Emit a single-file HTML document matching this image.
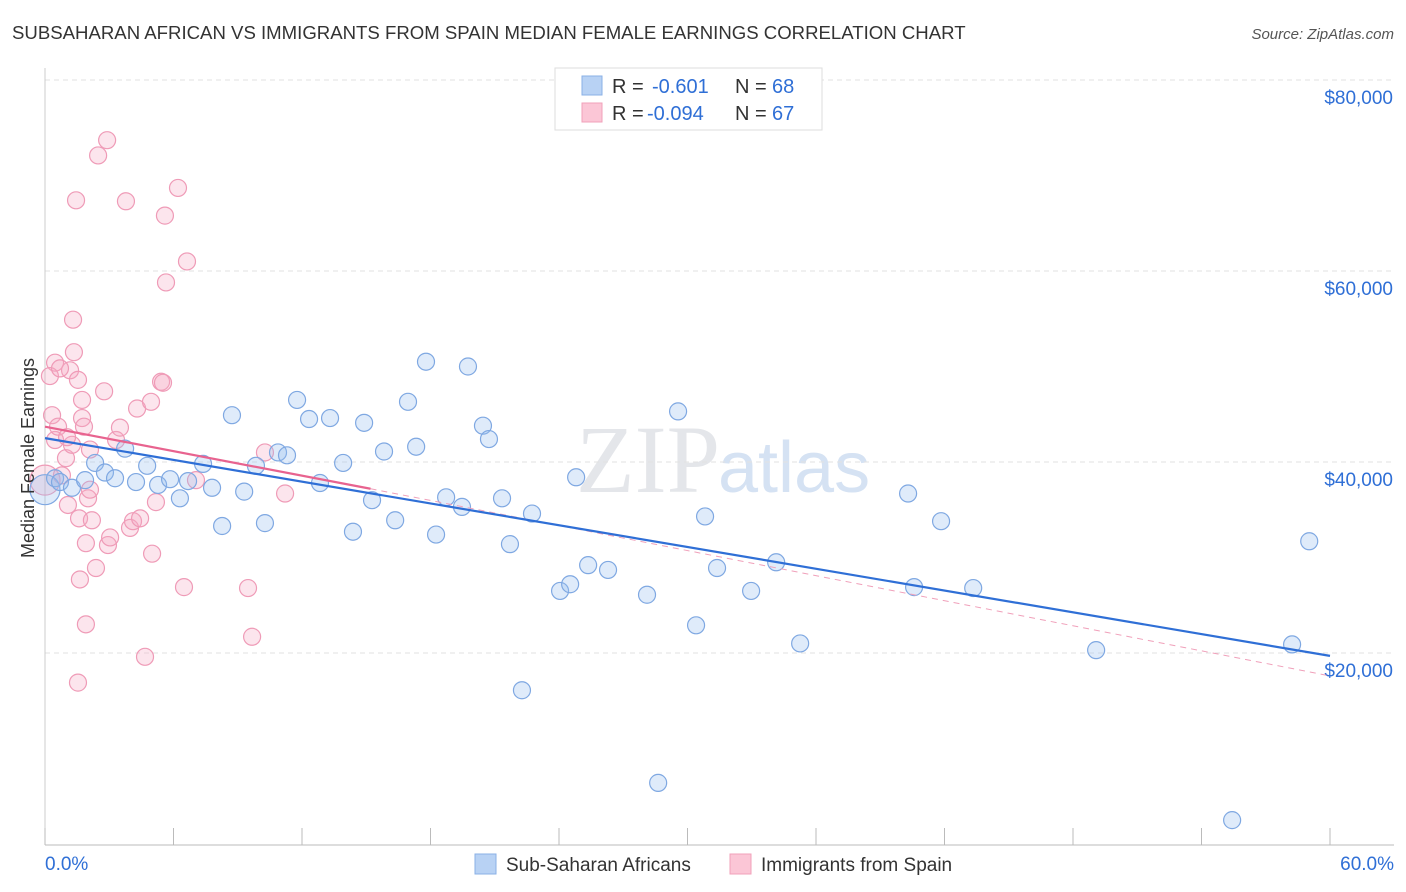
<!DOCTYPE html>
<html><head><meta charset="utf-8"><style>
body{margin:0;background:#fff;font-family:"Liberation Sans",sans-serif;}
svg{display:block}
</style></head><body>
<svg id="chart" width="1406" height="892">
<text x="12" y="39" font-size="18.6" fill="#333">SUBSAHARAN AFRICAN VS IMMIGRANTS FROM SPAIN MEDIAN FEMALE EARNINGS CORRELATION CHART</text>
<text x="1394" y="39" font-size="15" fill="#555" font-style="italic" text-anchor="end">Source: ZipAtlas.com</text>
<text x="720" y="492" font-size="96" fill="#e4e6ea" text-anchor="end" font-family="Liberation Serif">ZIP</text>
<text x="718" y="492" font-size="72" fill="#d5e2f3">atlas</text>
<g id="grid"></g><g id="axes"></g><g id="pts"></g><g id="trends"></g>
<g>
<rect x="555" y="68" width="267" height="62" fill="#fff" stroke="#ddd"/>
<rect x="582" y="76" width="20" height="19" fill="#b8d2f4" stroke="#8ab0e6"/>
<rect x="582" y="103" width="20" height="19" fill="#fbc6d6" stroke="#f0a0ba"/>
<text x="612" y="93" font-size="20" fill="#333">R =</text>
<text x="652" y="93" font-size="20" fill="#2f6fd6">-0.601</text>
<text x="735" y="93" font-size="20" fill="#333">N =</text>
<text x="772" y="93" font-size="20" fill="#2f6fd6">68</text>
<text x="612" y="120" font-size="20" fill="#333">R =</text>
<text x="647" y="120" font-size="20" fill="#2f6fd6">-0.094</text>
<text x="735" y="120" font-size="20" fill="#333">N =</text>
<text x="772" y="120" font-size="20" fill="#2f6fd6">67</text>
</g>
<g>
<rect x="475" y="854" width="21" height="20" fill="#b8d2f4" stroke="#8ab0e6"/>
<text x="506" y="871" font-size="19" fill="#333">Sub-Saharan Africans</text>
<rect x="730" y="854" width="21" height="20" fill="#fbc6d6" stroke="#f0a0ba"/>
<text x="761" y="871" font-size="19" fill="#333">Immigrants from Spain</text>
</g>
<text x="34" y="458" font-size="18" fill="#333" text-anchor="middle" transform="rotate(-90 34 458)">Median Female Earnings</text>
</svg>
<script>
const yTicks=[20000,40000,60000,80000];
const yTickLabels=["$20,000","$40,000","$60,000","$80,000"];
const xTickLabels=["0.0%","60.0%"];
const blueX=[0,0.47,0.7,1.26,1.87,2.34,2.8,3.27,3.74,4.25,4.77,5.28,5.84,6.3,6.68,7.38,7.8,8.27,8.73,9.3,9.85,10.27,10.88,11.3,11.77,12.33,12.84,13.31,13.92,14.38,14.9,15.27,15.83,16.35,16.95,17.33,17.79,18.26,18.73,19.47,19.75,20.45,20.73,21.34,21.71,22.27,22.74,24.05,24.52,24.8,25.36,26.29,28.11,28.63,29.56,30.4,30.82,31.38,32.97,34.14,35.26,40.3,40.58,41.84,43.34,49.08,55.43,58.23,59.03];
const blueY=[37.1,38.3,37.9,37.3,38.1,39.9,38.9,38.3,41.4,37.9,39.6,37.6,38.2,36.2,38.0,39.8,37.3,33.3,44.9,36.9,39.6,33.6,41.0,40.7,46.5,44.5,37.8,44.6,39.9,32.7,44.1,36.0,41.1,33.9,46.3,41.6,50.5,32.4,36.3,35.3,50.0,43.8,42.4,36.2,31.4,16.1,34.6,26.5,27.2,38.4,29.2,28.7,26.1,6.4,45.3,22.9,34.3,28.9,26.5,29.5,21.0,36.7,26.9,33.8,26.8,20.3,2.5,20.9,31.7];
const pinkX=[0,0.33,0.47,0.47,0.61,0.79,0.98,1.07,1.17,1.26,1.31,1.35,1.45,1.54,1.54,1.59,1.63,1.73,1.73,1.82,1.91,1.91,2.01,2.1,2.19,2.38,2.48,2.76,2.9,2.94,3.04,3.32,3.5,3.78,3.97,4.11,4.3,4.44,4.67,4.95,5.0,5.18,5.42,5.51,5.6,5.65,6.21,6.49,6.63,7.05,9.48,9.67,10.27,11.21,0.23,0.7,1.03,2.1];
const pinkY=[38.1,44.9,42.3,50.4,43.7,38.6,40.4,35.5,49.6,41.8,54.9,51.5,67.4,48.6,16.9,34.1,27.7,46.5,44.6,43.7,31.5,23.0,36.2,37.1,33.9,28.9,72.1,47.4,73.7,31.3,32.1,42.3,43.6,67.3,33.1,33.8,45.6,34.1,19.6,46.3,30.4,35.8,48.4,48.3,65.8,58.8,68.7,26.9,61.0,38.1,26.8,21.7,41.0,36.7,49.0,49.8,42.6,41.3];
const blueTrend=[[0,42.5],[60,19.7]];
const pinkTrend=[[0,43.7],[15.2,37.2]];
const pinkDash=[[15.2,37.2],[60,17.6]];
const NS="http://www.w3.org/2000/svg";
const X=p=>45+p*1285/60;
const Y=k=>844-k*1000*191/20000;
function mk(parent,tag,attrs){const e=document.createElementNS(NS,tag);for(const k in attrs)e.setAttribute(k,attrs[k]);document.getElementById(parent).appendChild(e);return e;}
yTicks.forEach((v,i)=>{
 const g=mk('grid','line',{x1:45,x2:1394,y1:Y(v/1000),y2:Y(v/1000),stroke:'#e2e2e2','stroke-dasharray':'5,4'});
 
 
 const t=mk('grid','text',{x:1393,y:Y(v/1000)+24,'font-size':19,fill:'#2f6fd6','text-anchor':'end'});
 t.textContent=yTickLabels[i];
 
 
});
const ax=mk('axes','line',{x1:45,x2:1394,y1:845,y2:845,stroke:'#bbb'});


const ay=mk('axes','line',{x1:45,x2:45,y1:68,y2:845,stroke:'#ccc'});


for(let i=0;i<=10;i++){const tk=mk('axes','line',{x1:X(i*6),x2:X(i*6),y1:828,y2:845,stroke:'#bbb'});
 
 }
const xl0=mk('axes','text',{x:45,y:870,'font-size':19,fill:'#2f6fd6'});xl0.textContent=xTickLabels[0];


const xl1=mk('axes','text',{x:1394,y:870,'font-size':19,fill:'#2f6fd6','text-anchor':'end'});xl1.textContent=xTickLabels[1];


function pts(xs,ys,fill,stroke,name){xs.forEach((x,i)=>{
 const c=mk('pts','circle',{cx:X(x),cy:Y(ys[i]),r:i===0?15:8.5,fill:fill,stroke:stroke,'stroke-width':1.2});
 
 });}
pts(pinkX,pinkY,'rgba(246,170,196,0.3)','#ef9bb7','point-spain');
pts(blueX,blueY,'rgba(150,188,240,0.3)','#7fa8e2','point-subsaharan');
function ln(d,stroke,w,dash,name){const l=mk('trends','line',{x1:X(d[0][0]),y1:Y(d[0][1]),x2:X(d[1][0]),y2:Y(d[1][1]),stroke:stroke,'stroke-width':w});
 if(dash)l.setAttribute('stroke-dasharray',dash);
 
 }
ln(pinkDash,'#f0a0ba',1,'6,5','trend-spain-dashed');
ln(blueTrend,'#2f6fd6',2.2,null,'trend-subsaharan');
ln(pinkTrend,'#e8638f',2.2,null,'trend-spain');
</script>
</body></html>
